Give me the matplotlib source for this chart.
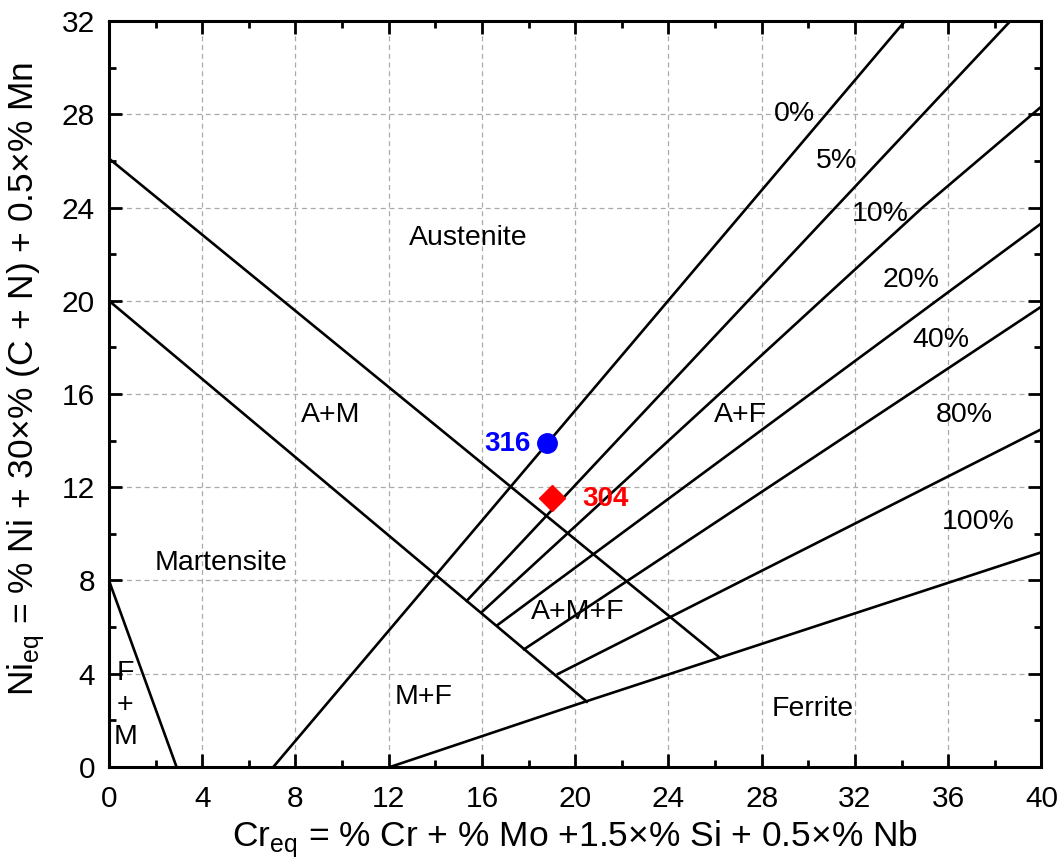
import matplotlib
matplotlib.use("Agg")
import matplotlib.pyplot as plt
from matplotlib.ticker import MultipleLocator

plt.rcParams['font.family'] = ['Liberation Sans', 'DejaVu Sans']

# Phase boundaries (Cr_eq, Ni_eq)
am_upper_x = [0.0, 26.2]
am_upper_y = [26.1, 4.7]
am_lower_x = [0.0, 20.5]
am_lower_y = [20.0, 2.8]
fm_x = [0.0, 2.9]
fm_y = [8.0, 0.0]

# Iso-ferrite lines
ferrite_labels = ["0%", "5%", "10%", "20%", "40%", "80%", "100%"]
ferrite_x = [
    [7.05, 34.15],
    [15.35, 38.67],
    [16.0, 34.9, 40.0],
    [16.67, 40.0],
    [17.81, 40.0],
    [19.26, 40.0],
    [12.06, 20.0, 32.0, 40.0],
]
ferrite_y = [
    [0.0, 32.0],
    [7.13, 32.0],
    [6.65, 24.0, 28.33],
    [6.09, 23.32],
    [5.05, 19.75],
    [3.99, 14.49],
    [0.0, 2.66, 6.59, 9.21],
]
ferrite_label_pos = [(29.4, 28.0), (31.2, 26.0), (33.1, 23.7), (34.4, 20.9),
                     (35.7, 18.3), (36.7, 15.1), (37.3, 10.5)]

# Phase regions
region_names = ["Austenite", "A+M", "A+F", "Martensite", "A+M+F", "M+F", "Ferrite"]
region_pos = [(15.4, 22.7), (9.5, 15.1), (27.1, 15.1), (4.8, 8.75),
              (20.1, 6.65), (13.5, 3.0), (30.2, 2.5)]

# Steel grades
grades = ["316", "304"]
grade_cr = [18.8, 19.0]
grade_ni = [13.9, 11.55]

fig = plt.figure(figsize=(10.62, 8.61), dpi=100)
ax = fig.add_axes([0.1026, 0.1092, 0.8780, 0.8664])

lw = 1.9
ax.plot(am_upper_x, am_upper_y, color='black', lw=lw)
ax.plot(am_lower_x, am_lower_y, color='black', lw=lw)
ax.plot(fm_x, fm_y, color='black', lw=lw)
for xs, ys in zip(ferrite_x, ferrite_y):
    ax.plot(xs, ys, color='black', lw=lw)

fs = 20.5
for lab, (x, y) in zip(ferrite_labels, ferrite_label_pos):
    ax.text(x, y, lab, fontsize=fs, ha='center', va='center')
for lab, (x, y) in zip(region_names, region_pos):
    ax.text(x, y, lab, fontsize=fs, ha='center', va='center')
ax.text(0.7, 2.65, "F\n+\nM", fontsize=fs, ha='center', va='center', linespacing=1.3)

ax.plot(grade_cr[0], grade_ni[0], 'o', color='blue', ms=14, zorder=5)
ax.plot(grade_cr[1], grade_ni[1], 'D', color='red', ms=13, zorder=5)
ax.text(grade_cr[0] - 0.7, grade_ni[0] - 0.05, grades[0], color='blue', fontsize=20,
        fontweight='bold', ha='right', va='center')
ax.text(grade_cr[1] + 1.3, grade_ni[1] - 0.05, grades[1], color='red', fontsize=20,
        fontweight='bold', ha='left', va='center')

ax.set_xlim(0, 40)
ax.set_ylim(0, 32)
ax.xaxis.set_major_locator(MultipleLocator(4))
ax.xaxis.set_minor_locator(MultipleLocator(2))
ax.yaxis.set_major_locator(MultipleLocator(4))
ax.yaxis.set_minor_locator(MultipleLocator(2))
ax.tick_params(which='both', direction='in', top=True, right=True, width=2)
ax.tick_params(which='major', length=9.5, labelsize=21.5)
ax.tick_params(axis='x', which='major', pad=13)
ax.tick_params(axis='y', which='major', pad=10)
ax.tick_params(which='minor', length=5)
for s in ax.spines.values():
    s.set_linewidth(2.2)
ax.grid(True, which='major', color='#aaaaaa', linestyle=(0, (4, 3)), linewidth=0.9)
ax.set_axisbelow(True)

ax.set_xlabel("Cr$_{\\mathregular{eq}}$ = % Cr + % Mo +1.5×% Si + 0.5×% Nb", fontsize=25.5, labelpad=4)
ax.set_ylabel("Ni$_{\\mathregular{eq}}$ = % Ni + 30×% (C + N) + 0.5×% Mn", fontsize=25.5, labelpad=4)
ax.yaxis.set_label_coords(-0.066, 0.52)

fig.savefig("out.png", dpi=100)
